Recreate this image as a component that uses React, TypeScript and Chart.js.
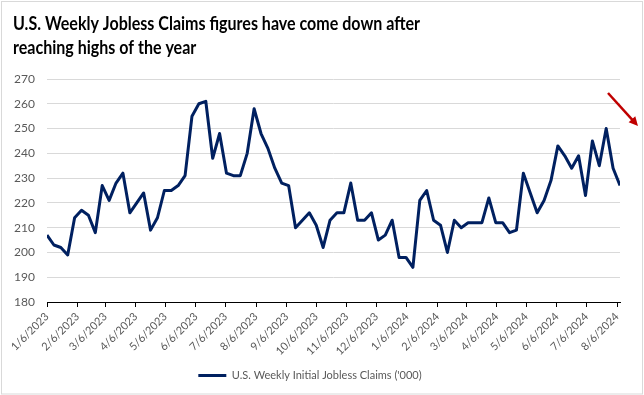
import React, { useEffect, useRef } from "react";
import { Chart, registerables } from "chart.js";

Chart.register(...registerables);

// ---- Data ----
const titleLines = [
  "U.S. Weekly Jobless Claims figures have come down after",
  "reaching highs of the year",
];
const seriesLabel = "U.S. Weekly Initial Jobless Claims ('000)";
const firstWeek = "1/6/2023"; // weekly observations, 7 days apart
const claims = [
  207, 203, 202, 199, 214, 217, 215, 208, 227, 221,
  228, 232, 216, 220, 224, 209, 214, 225, 225, 227,
  231, 255, 260, 261, 238, 248, 232, 231, 231, 240,
  258, 248, 242, 234, 228, 227, 210, 213, 216, 211,
  202, 213, 216, 216, 228, 213, 213, 216, 205, 207,
  213, 198, 198, 194, 221, 225, 213, 211, 200, 213,
  210, 212, 212, 212, 222, 212, 212, 208, 209, 232,
  224, 216, 221, 229, 243, 239, 234, 239, 223, 245,
  235, 250, 234, 227,
];
const xTickLabels = [
  "1/6/2023", "2/6/2023", "3/6/2023", "4/6/2023", "5/6/2023", "6/6/2023",
  "7/6/2023", "8/6/2023", "9/6/2023", "10/6/2023", "11/6/2023", "12/6/2023",
  "1/6/2024", "2/6/2024", "3/6/2024", "4/6/2024", "5/6/2024", "6/6/2024",
  "7/6/2024", "8/6/2024",
];
const yMin = 180;
const yMax = 270;
const yStep = 10;

const DAY = 86400000;
function parseDate(s: string): number {
  const [m, d, y] = s.split("/").map(Number);
  return Date.UTC(y, m - 1, d);
}
const origin = parseDate(firstWeek);
const toDay = (s: string) => Math.round((parseDate(s) - origin) / DAY);
const startDay = toDay(firstWeek);
const points = claims.map((v, i) => ({ x: startDay + i * 7, y: v }));
const tickDays = xTickLabels.map(toDay);
const lastDay = points[points.length - 1].x;

const FONT = "Lato, 'Open Sans', sans-serif";
const TITLE_WIDTH = 407;

const framePlugin = {
  id: "frame",
  beforeDraw(chart: any) {
    const { ctx, width, height } = chart;
    ctx.save();
    ctx.fillStyle = "#ffffff";
    ctx.fillRect(0, 0, width, height);
    ctx.strokeStyle = "#d9d9d9";
    ctx.lineWidth = 1;
    ctx.strokeRect(1.5, 1.5, width - 3, height - 2.5);
    ctx.fillStyle = "#000000";
    ctx.font = `bold 19px ${FONT}`;
    ctx.textBaseline = "alphabetic";
    ctx.textAlign = "left";
    const w = ctx.measureText(titleLines[0]).width;
    const sx = Math.min(1, TITLE_WIDTH / w);
    ctx.translate(13, 0);
    ctx.scale(sx, 1);
    ctx.fillText(titleLines[0], 0, 30);
    ctx.fillText(titleLines[1], 0, 54);
    ctx.restore();
  },
  afterDraw(chart: any) {
    const { ctx, chartArea } = chart;
    const x1 = chartArea.right - 12;
    const y1 = chartArea.top + 14;
    const x2 = chartArea.right + 18;
    const y2 = chartArea.top + 47;
    const ang = Math.atan2(y2 - y1, x2 - x1);
    ctx.save();
    ctx.strokeStyle = "#c00000";
    ctx.fillStyle = "#c00000";
    ctx.lineWidth = 2.5;
    ctx.beginPath();
    ctx.moveTo(x1, y1);
    ctx.lineTo(x2 - 6 * Math.cos(ang), y2 - 6 * Math.sin(ang));
    ctx.stroke();
    ctx.beginPath();
    ctx.moveTo(x2, y2);
    ctx.lineTo(x2 - 9 * Math.cos(ang) + 4.5 * Math.sin(ang), y2 - 9 * Math.sin(ang) - 4.5 * Math.cos(ang));
    ctx.lineTo(x2 - 9 * Math.cos(ang) - 4.5 * Math.sin(ang), y2 - 9 * Math.sin(ang) + 4.5 * Math.cos(ang));
    ctx.closePath();
    ctx.fill();
    ctx.restore();
  },
};

export default function App() {
  const ref = useRef<HTMLCanvasElement | null>(null);
  useEffect(() => {
    document.body.style.margin = "0";
    const canvas = ref.current;
    if (!canvas) return;
    const chart = new Chart(canvas, {
      type: "line",
      data: {
        datasets: [
          {
            label: seriesLabel,
            data: points,
            borderColor: "#002060",
            backgroundColor: "#002060",
            borderWidth: 3,
            pointRadius: 0,
            tension: 0,
            borderJoinStyle: "round",
            pointStyle: "line",
          },
        ],
      },
      options: {
        animation: false,
        responsive: false,
        layout: { padding: { top: 79, left: 0, right: 24, bottom: 4 } },
        plugins: {
          title: { display: false },
          tooltip: { enabled: false },
          legend: {
            display: true,
            position: "bottom",
            labels: {
              usePointStyle: true,
              pointStyle: "line",
              pointStyleWidth: 28,
              color: "#595959",
              padding: 10,
              font: { family: FONT, size: 11 },
            },
          },
        },
        scales: {
          x: {
            type: "linear",
            min: startDay,
            max: lastDay,
            afterBuildTicks: (scale: any) => {
              scale.ticks = tickDays.map((v) => ({ value: v }));
            },
            afterFit: (scale: any) => {
              scale.height = 58;
            },
            ticks: {
              autoSkip: false,
              minRotation: 45,
              maxRotation: 45,
              padding: 3,
              color: "#595959",
              font: { family: FONT, size: 11 },
              callback: (_v: any, i: number) => xTickLabels[i],
            },
            grid: {
              drawOnChartArea: false,
              drawTicks: true,
              tickLength: 5,
              color: "#000000",
            },
            border: { display: true, color: "#000000", width: 1 },
          },
          y: {
            min: yMin,
            max: yMax,
            afterFit: (scale: any) => {
              scale.width = 47;
            },
            ticks: {
              stepSize: yStep,
              padding: 12,
              color: "#595959",
              font: { family: FONT, size: 12 },
            },
            grid: { color: "#d9d9d9", drawTicks: false },
            border: { display: false },
          },
        },
      },
      plugins: [framePlugin],
    } as any);
    return () => chart.destroy();
  }, []);
  return (
    <canvas
      ref={ref}
      width={644}
      height={395}
      style={{ display: "block", width: 644, height: 395 }}
    />
  );
}
